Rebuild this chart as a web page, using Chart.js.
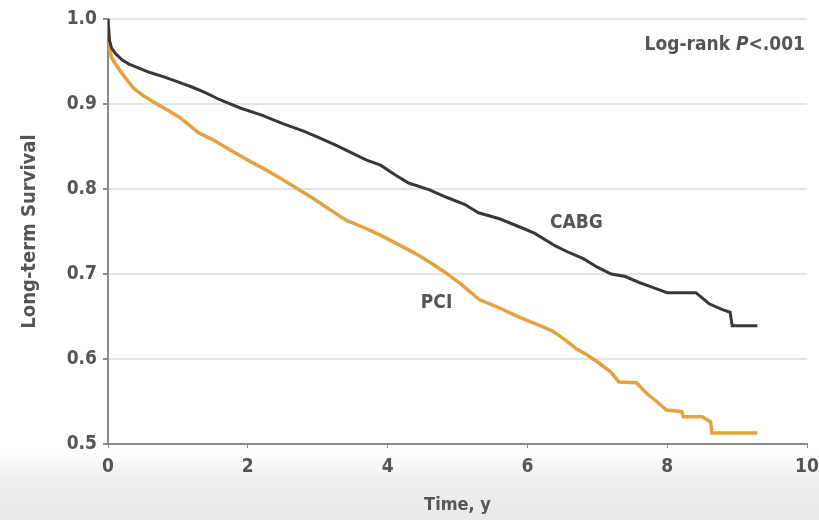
<!DOCTYPE html>
<html>
<head>
<meta charset="utf-8">
<script src="https://cdn.jsdelivr.net/npm/chart.js@4/dist/chart.umd.min.js"></script>
<style>
  body {
    margin: 0;
    background: linear-gradient(to bottom, #ffffff 0px, #ffffff 452px, #eeeeee 480px, #e9e9e9 520px);
  }
  canvas { display: block; }
</style>
</head>
<body>
<canvas id="km-chart" width="819" height="520"></canvas>
<script>
// Kaplan-Meier curves, values (many small steps, so drawn as a line)
const cabgTime = [0, 0.02, 0.05, 0.1, 0.2, 0.3, 0.45, 0.6, 0.8, 1.0, 1.2, 1.4, 1.6, 1.9, 2.2, 2.5, 2.8, 3.0, 3.25, 3.5, 3.7, 3.9, 4.1, 4.3, 4.6, 4.85, 5.1, 5.3, 5.6, 5.9, 6.1, 6.4, 6.6, 6.8, 7.0, 7.2, 7.4, 7.6, 7.8, 8.0, 8.41, 8.5, 8.6, 8.79, 8.9, 8.93, 9.29];
const cabgSurv = [1.0, 0.975, 0.966, 0.96, 0.952, 0.947, 0.942, 0.937, 0.932, 0.926, 0.92, 0.913, 0.905, 0.895, 0.887, 0.877, 0.868, 0.861, 0.852, 0.842, 0.834, 0.828, 0.817, 0.807, 0.799, 0.79, 0.782, 0.772, 0.765, 0.755, 0.748, 0.733, 0.725, 0.718, 0.708, 0.7, 0.697, 0.69, 0.684, 0.678, 0.678, 0.672, 0.665, 0.658, 0.655, 0.639, 0.639];

const pciTime = [0, 0.02, 0.05, 0.1, 0.2, 0.36, 0.5, 0.7, 0.85, 1.03, 1.3, 1.5, 1.75, 2.0, 2.25, 2.46, 2.7, 2.93, 3.15, 3.41, 3.65, 3.89, 4.17, 4.4, 4.62, 4.84, 5.05, 5.31, 5.6, 5.89, 6.1, 6.36, 6.55, 6.7, 6.85, 7.03, 7.2, 7.31, 7.56, 7.7, 7.85, 7.99, 8.21, 8.23, 8.5, 8.62, 8.64, 9.29];
const pciSurv = [1.0, 0.965, 0.955, 0.948, 0.936, 0.919, 0.91, 0.9, 0.893, 0.884, 0.866, 0.858, 0.846, 0.834, 0.823, 0.813, 0.801, 0.789, 0.777, 0.763, 0.755, 0.746, 0.734, 0.724, 0.713, 0.701, 0.688, 0.67, 0.66, 0.649, 0.642, 0.633, 0.622, 0.612, 0.605, 0.595, 0.584, 0.573, 0.572, 0.56, 0.55, 0.54, 0.538, 0.532, 0.532, 0.526, 0.513, 0.513];

const xTicks = [0, 2, 4, 6, 8, 10];
const yTicks = [0.5, 0.6, 0.7, 0.8, 0.9, 1.0];

// curve labels, placed in data coordinates
const curveLabels = [
	{ text: "CABG", x: 6.7, y: 0.76 },
	{ text: "PCI", x: 4.7, y: 0.666 },
];

const font = "'Liberation Sans Narrow', 'DejaVu Sans Condensed', sans-serif";
const textColor = "#555";

function toPoints(times, values) {
	return times.map((t, i) => ({ x: t, y: values[i] }));
}

const labelPlugin = {
	id: "labels",
	afterDatasetsDraw(chart) {
		const { ctx, scales, chartArea } = chart;
		ctx.save();
		ctx.fillStyle = textColor;
		ctx.font = `bold 19px ${font}`;
		ctx.textAlign = "center";
		ctx.textBaseline = "middle";
		curveLabels.forEach((lab) => {
			ctx.fillText(lab.text, scales.x.getPixelForValue(lab.x), scales.y.getPixelForValue(lab.y));
		});

		// Log-rank P<.001, with italic P
		const yPos = 45;
		const right = chartArea.right - 2;
		const normal = `bold 19px ${font}`;
		const italic = `italic bold 19px ${font}`;
		ctx.textAlign = "left";
		ctx.font = normal;
		const part1 = "Log-rank ";
		const part3 = "<.001";
		const w1 = ctx.measureText(part1).width;
		const w3 = ctx.measureText(part3).width;
		ctx.font = italic;
		const w2 = ctx.measureText("P").width;
		let x = right - (w1 + w2 + w3);
		ctx.font = normal;
		ctx.fillText(part1, x, yPos);
		x += w1;
		ctx.font = italic;
		ctx.fillText("P", x, yPos);
		x += w2;
		ctx.font = normal;
		ctx.fillText(part3, x, yPos);
		ctx.restore();
	},
};

new Chart(document.getElementById("km-chart"), {
	type: "line",
	data: {
		datasets: [
			{
				label: "CABG",
				data: toPoints(cabgTime, cabgSurv),
				borderColor: "#383838",
				borderWidth: 3,
				pointRadius: 0,
				tension: 0,
				fill: false,
			},
			{
				label: "PCI",
				data: toPoints(pciTime, pciSurv),
				borderColor: "#e3a23f",
				borderWidth: 3.5,
				pointRadius: 0,
				tension: 0,
				fill: false,
			},
		],
	},
	options: {
		responsive: false,
		animation: false,
		layout: { padding: { top: 19, right: 12, left: 0, bottom: 0 } },
		plugins: {
			legend: { display: false },
			tooltip: { enabled: false },
		},
		scales: {
			x: {
				type: "linear",
				min: 0,
				max: 10,
				afterBuildTicks(scale) {
					scale.ticks = xTicks.map((v) => ({ value: v }));
				},
				afterFit(scale) {
					scale.height = 76;
					scale.paddingRight = 0;
				},
				border: { color: "#8a8a8a", width: 2 },
				grid: { drawOnChartArea: false, color: "#8a8a8a", tickLength: 4 },
				ticks: {
					color: textColor,
					font: { family: font, size: 19, weight: "bold" },
					padding: 8,
					maxRotation: 0,
				},
				title: {
					display: true,
					text: "Time, y",
					color: textColor,
					font: { family: font, size: 18, weight: "bold" },
					padding: { top: 12 },
				},
			},
			y: {
				type: "linear",
				min: 0.5,
				max: 1.0,
				afterBuildTicks(scale) {
					scale.ticks = yTicks.map((v) => ({ value: v }));
				},
				afterFit(scale) {
					scale.width = 108;
				},
				border: { color: "#8a8a8a", width: 2 },
				grid: {
					color: (c) => (c.tick && c.tick.value === 0.5 ? "#8a8a8a" : "#e4e4e4"),
					lineWidth: 2,
					tickColor: "#8a8a8a",
					tickLength: 5,
				},
				ticks: {
					color: textColor,
					font: { family: font, size: 19, weight: "bold" },
					padding: 6,
					callback: (v) => v.toFixed(1),
				},
				title: {
					display: true,
					text: "Long-term Survival",
					color: textColor,
					font: { family: font, size: 20, weight: "bold" },
					padding: { top: 18 },
				},
			},
		},
	},
	plugins: [labelPlugin],
});
</script>
</body>
</html>
